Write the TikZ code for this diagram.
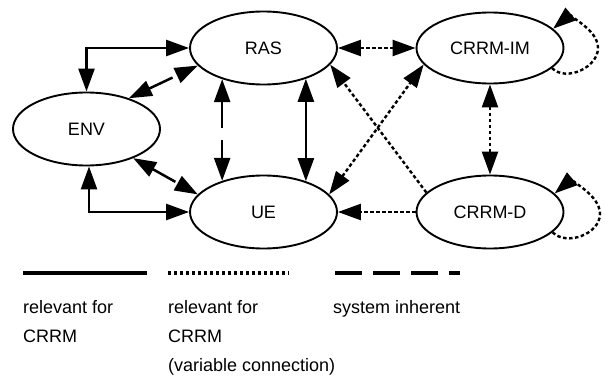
\documentclass[tikz,border=0pt]{standalone}
\usepackage{fontspec}
\setmainfont{Liberation Sans}
\usetikzlibrary{arrows.meta,shapes.geometric}
\begin{document}
\begin{tikzpicture}[x=1pt,y=-1pt,
  el/.style={draw,ellipse,line width=1.9pt,minimum width=147pt,minimum height=73pt,inner sep=0pt,font=\fontsize{18}{21}\selectfont},
  endtip/.style={-{Triangle[length=23pt,width=16pt]}},
  twotips/.style={{Triangle[length=23pt,width=16pt]}-{Triangle[length=23pt,width=16pt]}},
  solidc/.style={line width=2.5pt},
  longdash/.style={line width=2.5pt,dash pattern=on 26pt off 12pt},
  dotc/.style={line width=2.4pt,dash pattern=on 3.5pt off 2.5pt},
  legtext/.style={anchor=base west,inner sep=0pt,font=\fontsize{18}{21}\selectfont}]
\useasboundingbox (0,0) rectangle (605,377);

% nodes
\node[el] (ENV) at (86.5,129) {ENV};
\node[el] (RAS) at (263.5,48) {RAS};
\node[el] (UE)  at (263.5,212) {UE};
\node[el,minimum height=71pt] (IM) at (490,48) {CRRM-IM};
\node[el] (D)   at (490,212) {CRRM-D};

% solid connectors
\draw[solidc,twotips] (ENV.north) |- (RAS.west);
\draw[solidc,twotips] ([xshift=2.5pt]ENV.south) |- (UE.west);
\draw[solidc,twotips] (RAS.-36) -- (UE.36);

% system inherent (long dash)
\draw[longdash,twotips] (ENV.36) -- (RAS.195);
\draw[longdash,twotips] (ENV.-32) -- (UE.165);
\draw[longdash,twotips] (RAS.217) -- (UE.143);

% variable connections (dotted)
\draw[dotc,twotips] (RAS.east) -- (IM.west);
\draw[dotc,twotips] (IM.south) -- (D.north);
\draw[dotc,endtip] (D.163) -- (RAS.-14);
\draw[dotc,twotips] (UE.15) -- (IM.194);
\draw[dotc,endtip] (D.west) -- (UE.east);

% self loops
\coordinate (imr) at (598,48);
\coordinate (dr) at (600,214);
\draw[dotc,endtip] (IM.-18) to[out=-45,in=-90] (imr) to[out=90,in=40] (IM.17);
\draw[dotc,endtip] (D.-18) to[out=-45,in=-90] (dr) to[out=90,in=40] (D.16);

% legend
\coordinate (a1) at (23,273);  \coordinate (a2) at (147,273);
\coordinate (b1) at (168,273); \coordinate (b2) at (289,273);
\coordinate (c1) at (335,273); \coordinate (c2) at (460,273);
\draw[line width=3.5pt] (a1) -- (a2);
\draw[line width=3.5pt,dash pattern=on 3pt off 3pt] (b1) -- (b2);
\draw[line width=3.5pt,dash pattern=on 27pt off 11pt] (c1) -- (c2);

\node[legtext] (t1) at (23,313) {relevant for};
\node[legtext] (t2) at (23,342) {CRRM};
\node[legtext] (t3) at (168,313) {relevant for};
\node[legtext] (t4) at (168,342) {CRRM};
\node[legtext] (t5) at (168,371) {(variable connection)};
\node[legtext] (t6) at (333,313) {system inherent};
\end{tikzpicture}
\end{document}
